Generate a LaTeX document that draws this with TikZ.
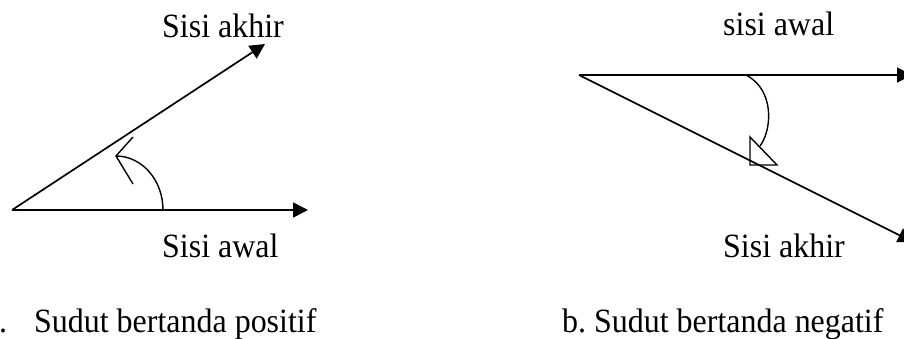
\documentclass[tikz,border=0pt]{standalone}
\usepackage{fontspec}
\setmainfont[FakeStretch=0.94]{Liberation Serif}
\usetikzlibrary{arrows.meta}
\begin{document}
\frenchspacing
\begin{tikzpicture}[x=1pt,y=-1pt,
  lbl/.style={anchor=base west,inner sep=0pt,font=\fontsize{34}{40}\selectfont},
  ray/.style={line width=1.7pt,-{Triangle[length=15pt,width=15pt]}},
  thin/.style={line width=1.4pt}]
\useasboundingbox (0,0) rectangle (904,338);
% left diagram
\coordinate (O1) at (12,210);
\coordinate (E1) at (308,210);
\coordinate (F1) at (265,44);
\draw[ray] (O1) -- (E1);
\draw[ray] (O1) -- (F1);
\coordinate (A1) at (163,210);
\coordinate (P1) at (116,156);
\coordinate (U1) at (133,137);
\coordinate (L1) at (133,184);
\draw[thin] (A1) arc[start angle=0,end angle=-90,x radius=47,y radius=54];
\draw[thin] (U1) -- (P1) -- (L1);
\node[lbl] (t1) at (162,37) {Sisi akhir};
\node[lbl] (t2) at (162,257) {Sisi awal};
\node[lbl] (c1) at (-1,332) {.\hspace{27pt}Sudut bertanda positif};
% right diagram
\coordinate (O2) at (579,75);
\coordinate (E2) at (912,75);
\coordinate (F2) at (913,242);
\draw[ray] (O2) -- (E2);
\draw[ray] (O2) -- (F2);
\coordinate (A2) at (746,75);
\coordinate (P2) at (760,146);
\draw[thin] (A2) .. controls (775,90) and (772,130) .. (P2);
\coordinate (T1) at (750,137);
\coordinate (T2) at (750,165);
\coordinate (T3) at (777,165);
\draw[thin] (T1) -- (T2) -- (T3) -- cycle;
\node[lbl] (t3) at (723,35) {sisi awal};
\node[lbl] (t4) at (723,257) {Sisi akhir};
\node[lbl] (c2) at (562,332) {b. Sudut bertanda negatif};
\end{tikzpicture}
\end{document}
